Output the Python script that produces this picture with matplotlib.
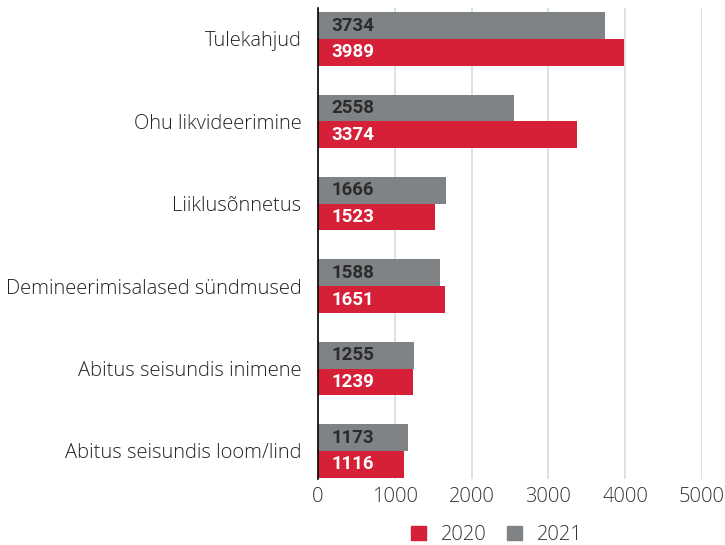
import matplotlib.pyplot as plt
from matplotlib.patches import Patch
import numpy as np

categories = ['Tulekahjud', 'Ohu likvideerimine', 'Liiklusõnnetus',
              'Demineerimisalased sündmused', 'Abitus seisundis inimene',
              'Abitus seisundis loom/lind']
values_2021 = [3734, 2558, 1666, 1588, 1255, 1173]
values_2020 = [3989, 3374, 1523, 1651, 1239, 1116]
xticks = [0, 1000, 2000, 3000, 4000, 5000]

red = '#d52037'
gray = '#808385'

fig = plt.figure(figsize=(7.25, 5.45), dpi=100)
ax = fig.add_axes([0.4386, 0.1211, 0.5297, 0.8642])

y = np.arange(len(categories))
h = 0.324
bars21 = ax.barh(y - h / 2, values_2021, height=h, color=gray, zorder=2)
bars20 = ax.barh(y + h / 2, values_2020, height=h, color=red, zorder=2)

# value labels inside the bars, near the axis
for b, v in zip(bars21, values_2021):
    ax.annotate(str(v), (0, b.get_y() + b.get_height() / 2), xytext=(10, 0),
                textcoords='offset points', va='center', ha='left',
                fontsize=13.5, fontweight='bold', family='Roboto', color='#2b2b2b', zorder=3)
for b, v in zip(bars20, values_2020):
    ax.annotate(str(v), (0, b.get_y() + b.get_height() / 2), xytext=(10, 0),
                textcoords='offset points', va='center', ha='left',
                fontsize=13.5, fontweight='bold', family='Roboto', color='white', zorder=3)

ax.set_xlim(0, 5000)
ax.set_ylim(len(categories) - 1 + 0.34, -0.376)
ax.set_xticks(xticks)
ax.set_xticklabels([str(t) for t in xticks], family='Open Sans', fontweight='light',
                   fontsize=14.5, color='#333333')
ax.set_yticks(y)
ax.set_yticklabels(categories, family='Open Sans', fontweight='light',
                   fontsize=14.5, color='#222222')
ax.tick_params(axis='y', length=0, pad=12)
ax.tick_params(axis='x', length=0, pad=6)

ax.grid(axis='x', color='#d9dcdc', linewidth=1.2, zorder=0)
for s in ['top', 'right', 'bottom']:
    ax.spines[s].set_visible(False)
ax.spines['left'].set_color('black')
ax.spines['left'].set_linewidth(1.2)
ax.spines['left'].set_zorder(4)

handles = [Patch(color=red, label='2020'), Patch(color=gray, label='2021')]
leg = fig.legend(handles=handles, loc='center', bbox_to_anchor=(497 / 725, 1 - 535 / 545),
                 ncol=2, frameon=False, handlelength=0.75, handleheight=0.75,
                 handletextpad=0.75, columnspacing=1.0, borderpad=0.2,
                 prop={'family': 'Open Sans', 'weight': 'light', 'size': 14.5})
for t in leg.get_texts():
    t.set_color('#333333')

fig.savefig('out.png', dpi=100)
